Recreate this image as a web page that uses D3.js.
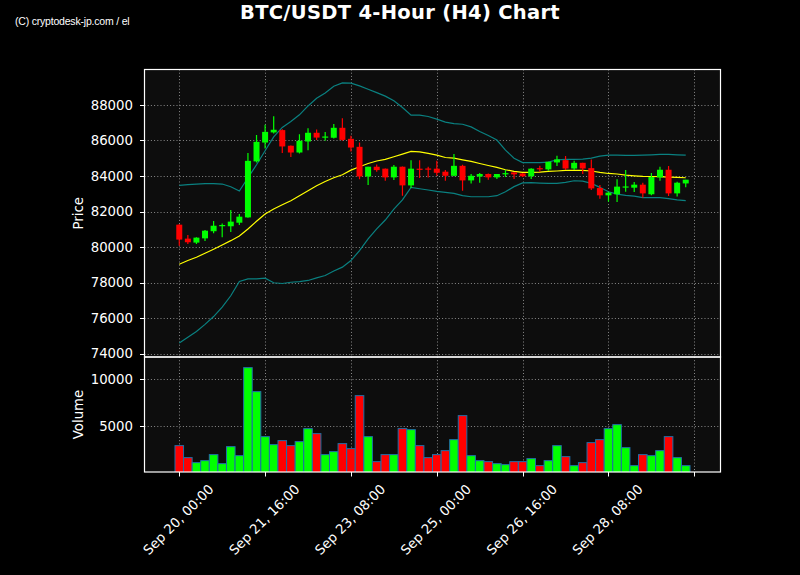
<!DOCTYPE html>
<html><head><meta charset="utf-8">
<script src="https://cdn.jsdelivr.net/npm/d3@7/dist/d3.min.js"></script>
<style>body{margin:0;background:#000;} svg{display:block;}</style>
</head><body><svg id="chart" width="800" height="575"></svg>
<script>
// ---------------- DATA ----------------
const startTime = "2025-09-20T00:00:00Z"; // first candle, 4-hour candles
const opens  = [81260,80475,80250,80490,80890,81190,81170,81370,81670,84820,85880,86450,86580,85700,85320,85940,86430,86160,86150,86710,86090,85640,83970,84520,84410,83920,84520,83470,84410,84420,84410,84240,84010,84570,83750,83970,84110,83920,84090,84200,84140,83980,84440,84370,84760,84890,84420,84740,84440,83320,82910,82970,83360,83340,83510,82970,83920,84350,83020,83580];
const highs  = [81280,80680,80550,80960,81470,81320,82080,81860,85290,86310,86880,87360,86630,85720,86350,86690,86610,86480,86930,87250,86260,85880,84520,84650,84420,84610,84530,84890,84890,84520,84860,84330,85230,84630,84110,84160,84140,84110,84350,84210,84150,84440,84570,84800,85140,85120,84860,84750,84930,83490,83110,83810,84330,83660,83620,84160,84520,84560,83680,83790];
const lows   = [80080,80175,80175,80340,80770,80550,80850,81240,81650,84760,85550,86390,85290,85060,85270,85450,86030,85980,86110,85980,85380,83820,83490,84240,83730,83770,82890,83320,83880,83920,84010,83730,83990,83170,83580,83620,83790,83830,83940,83830,83940,83830,84240,84290,84560,84330,84330,84110,83210,82720,82550,82530,83110,83100,82780,82910,83730,82870,82850,83360];
const closes = [80420,80270,80530,80920,81200,81240,81430,81710,84850,85920,86480,86600,85660,85320,85980,86430,86160,86220,86710,86030,85600,83970,84520,84330,83920,84520,83470,84410,84350,84370,84180,84010,84570,83750,84010,84110,83920,84110,84160,84090,83980,84410,84370,84800,84930,84420,84740,84420,83300,82910,83060,83400,83410,83510,83020,83940,84350,83020,83620,83790];
const volumes = [2943,1667,1135,1347,1986,1028,2837,1879,11241,8688,3900,3050,3475,2943,3369,4752,4220,1986,2305,3156,2624,8262,3900,1241,1986,1986,4752,4645,2943,1667,1986,2411,3581,6135,1879,1347,1241,1028,922,1241,1241,1560,816,1347,2943,1773,816,1135,3262,3581,4752,5177,2730,816,1986,1879,2411,3900,1667,816];
const bbUpper  = [83470,83510,83545,83565,83565,83545,83395,83150,83900,84630,85420,86200,86730,87060,87440,87940,88370,88670,89050,89240,89220,89070,88880,88690,88490,88230,87850,87420,87420,87345,87195,87030,86950,86910,86760,86500,86280,86020,85450,85000,84750,84745,84745,84780,84910,84930,84930,84950,85000,85120,85170,85170,85155,85155,85170,85190,85210,85210,85190,85170];
const bbMiddle = [79030,79240,79430,79650,79880,80120,80360,80620,81020,81450,81860,82140,82380,82610,82890,83170,83450,83690,83900,84070,84330,84520,84700,84840,84930,85080,85230,85380,85360,85270,85170,85040,85000,84910,84820,84700,84590,84480,84350,84260,84200,84200,84220,84260,84280,84310,84310,84310,84280,84200,84140,84110,84050,84010,83980,83970,83960,83940,83920,83900];
const bbLower  = [74600,74930,75250,75650,76090,76620,77260,78060,78210,78210,78250,77990,77950,78020,78060,78120,78270,78400,78650,78870,79240,79800,80460,81020,81520,82140,82650,83360,83280,83210,83130,83080,83020,82890,82830,82830,82830,82890,83110,83400,83610,83620,83600,83580,83580,83640,83730,83710,83580,83360,83110,82980,82910,82870,82780,82780,82780,82720,82650,82610];
const priceTicks = [74000,76000,78000,80000,82000,84000,86000,88000];
const volumeTicks = [5000,10000];
const xTickTimes = ["2025-09-20T00:00:00Z","2025-09-21T16:00:00Z","2025-09-23T08:00:00Z","2025-09-25T00:00:00Z","2025-09-26T16:00:00Z","2025-09-28T08:00:00Z","2025-09-30T00:00:00Z"];
const xTickLabels = ["Sep 20, 00:00","Sep 21, 16:00","Sep 23, 08:00","Sep 25, 00:00","Sep 26, 16:00","Sep 28, 08:00",""];
const titleText = "BTC/USDT 4-Hour (H4) Chart";
const watermark = "(C) cryptodesk-jp.com / el";

// ---------------- LAYOUT ----------------
const L = 144.5, R = 720.5, T = 69.5, M = 357, B = 472;
const UP = "#00ff00", DOWN = "#ff0000";
const FONT = "'DejaVu Sans', sans-serif";

const start = new Date(startTime);
const times = opens.map((_, i) => d3.utcHour.offset(start, 4 * i));
const candles = times.map((t, i) => ({t, o: opens[i], h: highs[i], l: lows[i], c: closes[i], v: volumes[i]}));

const svg = d3.select("#chart");
svg.append("rect").attr("width", 800).attr("height", 575).attr("fill", "#000");

const x = d3.scaleUtc()
  .domain([new Date(start.getTime() - 16.2 * 3600e3), new Date(start.getTime() + 252.2 * 3600e3)])
  .range([L, R]);
const yP = d3.scaleLinear().domain([73814, 89990]).range([M, T]);
const yV = d3.scaleLinear().domain([0, 12372]).range([473.3, M]);
const step = x(d3.utcHour.offset(start, 4)) - x(start);

const defs = svg.append("defs");
defs.append("clipPath").attr("id", "clipP").append("rect").attr("x", L).attr("y", T).attr("width", R - L).attr("height", M - T);
defs.append("clipPath").attr("id", "clipV").append("rect").attr("x", L).attr("y", M).attr("width", R - L).attr("height", B - M);

// panel backgrounds
svg.append("rect").attr("x", L).attr("y", T).attr("width", R - L).attr("height", M - T).attr("fill", "#0d0d0d");
svg.append("rect").attr("x", L).attr("y", M).attr("width", R - L).attr("height", B - M).attr("fill", "#0d0d0d");

const tickDates = xTickTimes.map(s => new Date(s));
const gridStyle = g => g.attr("stroke", "#8a8a8a").attr("stroke-width", 1).attr("stroke-dasharray", "1,2.2");

// grids
const gP = svg.append("g").attr("clip-path", "url(#clipP)");
gP.selectAll("line.h").data(priceTicks).join("line")
  .attr("x1", L).attr("x2", R).attr("y1", d => Math.round(yP(d)) + 0.5).attr("y2", d => Math.round(yP(d)) + 0.5).call(gridStyle);
gP.selectAll("line.v").data(tickDates).join("line")
  .attr("x1", d => Math.round(x(d)) + 0.5).attr("x2", d => Math.round(x(d)) + 0.5).attr("y1", T).attr("y2", M).call(gridStyle);
const gV = svg.append("g").attr("clip-path", "url(#clipV)");
gV.selectAll("line.h").data(volumeTicks).join("line")
  .attr("x1", L).attr("x2", R).attr("y1", d => Math.round(yV(d)) + 0.5).attr("y2", d => Math.round(yV(d)) + 0.5).call(gridStyle);
gV.selectAll("line.v").data(tickDates).join("line")
  .attr("x1", d => Math.round(x(d)) + 0.5).attr("x2", d => Math.round(x(d)) + 0.5).attr("y1", M).attr("y2", B).call(gridStyle);

// Bollinger bands
const lineOf = arr => d3.line().x((d, i) => x(times[i])).y(d => yP(d))(arr);
gP.append("path").attr("d", lineOf(bbUpper)).attr("fill", "none").attr("stroke", "#0a8080").attr("stroke-width", 1.2);
gP.append("path").attr("d", lineOf(bbLower)).attr("fill", "none").attr("stroke", "#0a8080").attr("stroke-width", 1.2);
gP.append("path").attr("d", lineOf(bbMiddle)).attr("fill", "none").attr("stroke", "#ffff00").attr("stroke-width", 1.2);

// candles
const bodyW = 6;
const cg = gP.selectAll("g.c").data(candles).join("g");
cg.append("line")
  .attr("x1", d => x(d.t)).attr("x2", d => x(d.t))
  .attr("y1", d => yP(d.h)).attr("y2", d => yP(d.l))
  .attr("stroke", d => d.c >= d.o ? UP : DOWN).attr("stroke-width", 1.2);
cg.append("rect")
  .attr("x", d => x(d.t) - bodyW / 2).attr("width", bodyW)
  .attr("y", d => yP(Math.max(d.o, d.c)))
  .attr("height", d => Math.max(1.2, Math.abs(yP(d.o) - yP(d.c))))
  .attr("fill", d => d.c >= d.o ? UP : DOWN);

// volume bars
gV.selectAll("rect.v").data(candles).join("rect")
  .attr("x", d => x(d.t) - step / 2).attr("width", step)
  .attr("y", d => yV(d.v)).attr("height", d => yV(0) - yV(d.v))
  .attr("fill", d => d.c >= d.o ? UP : DOWN)
  .attr("stroke", "#1f6fa8").attr("stroke-width", 1);

// spines
[[T, M], [M, B]].forEach(([a, b]) => {
  svg.append("rect").attr("x", L).attr("y", a).attr("width", R - L).attr("height", b - a)
    .attr("fill", "none").attr("stroke", "#fff").attr("stroke-width", 1.2);
});

// y axes
const tickText = (g) => g.attr("fill", "#fff").attr("font-family", FONT).attr("font-size", 13.3);
const yPg = svg.append("g");
yPg.selectAll("line").data(priceTicks).join("line")
  .attr("x1", L - 4.5).attr("x2", L).attr("y1", d => Math.round(yP(d)) + 0.5).attr("y2", d => Math.round(yP(d)) + 0.5)
  .attr("stroke", "#fff").attr("stroke-width", 1);
yPg.selectAll("text").data(priceTicks).join("text")
  .attr("x", 133).attr("y", d => yP(d)).attr("dy", "0.36em").attr("text-anchor", "end")
  .text(d => d).call(tickText);
const yVg = svg.append("g");
yVg.selectAll("line").data(volumeTicks).join("line")
  .attr("x1", L - 4.5).attr("x2", L).attr("y1", d => Math.round(yV(d)) + 0.5).attr("y2", d => Math.round(yV(d)) + 0.5)
  .attr("stroke", "#fff").attr("stroke-width", 1);
yVg.selectAll("text").data(volumeTicks).join("text")
  .attr("x", 133).attr("y", d => yV(d)).attr("dy", "0.36em").attr("text-anchor", "end")
  .text(d => d).call(tickText);

// x axis
const xg = svg.append("g");
xg.selectAll("line").data(tickDates).join("line")
  .attr("x1", d => Math.round(x(d)) + 0.5).attr("x2", d => Math.round(x(d)) + 0.5).attr("y1", B).attr("y2", B + 4.5)
  .attr("stroke", "#fff").attr("stroke-width", 1);
xg.selectAll("text").data(tickDates).join("text")
  .attr("transform", d => `translate(${x(d) - 1},519.5) rotate(-45)`)
  .attr("text-anchor", "middle").attr("dy", "0.36em")
  .text((d, i) => xTickLabels[i]).call(tickText);

// axis labels
svg.append("text").attr("transform", `translate(83,${(T + M) / 2}) rotate(-90)`)
  .attr("text-anchor", "middle").text("Price").call(tickText);
svg.append("text").attr("transform", `translate(83,${(M + B) / 2}) rotate(-90)`)
  .attr("text-anchor", "middle").text("Volume").call(tickText);

// title & watermark
svg.append("text").attr("x", 400).attr("y", 18.5).attr("text-anchor", "middle")
  .attr("fill", "#fff").attr("font-family", FONT).attr("font-weight", "bold").attr("font-size", 19.5)
  .attr("letter-spacing", 0.3)
  .text(titleText);
svg.append("text").attr("x", 15).attr("y", 24.5)
  .attr("fill", "#fff").attr("font-family", "'Liberation Sans', Arial, sans-serif").attr("font-size", 10.5)
  .attr("letter-spacing", -0.2)
  .text(watermark);
</script></body></html>
